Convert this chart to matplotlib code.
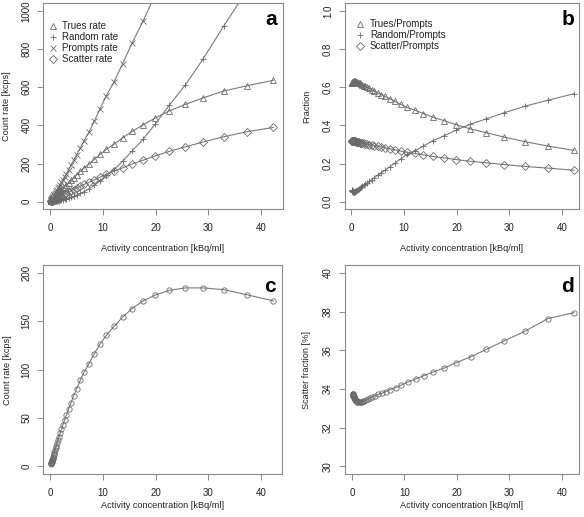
import numpy as np
import matplotlib
matplotlib.use('Agg')
import matplotlib.pyplot as plt

plt.rcParams['font.family'] = ['Liberation Sans', 'DejaVu Sans']

# activity concentration [kBq/ml] for each frame
activity = [0.13, 0.15, 0.17, 0.19, 0.22, 0.25, 0.28, 0.32, 0.36, 0.41,
            0.46, 0.52, 0.59, 0.67, 0.76, 0.87, 0.98, 1.11, 1.26, 1.43,
            1.62, 1.84, 2.09, 2.37, 2.68, 3.04, 3.45, 3.9, 4.4, 5.0,
            5.7, 6.4, 7.3, 8.3, 9.4, 10.6, 12.1, 13.7, 15.5, 17.6,
            19.9, 22.6, 25.6, 29.0, 32.9, 37.3, 42.3]

# noise equivalent count rate [kcps] (panel c)
necr = [2.55, 2.95, 3.3, 3.7, 4.3, 4.9, 5.5, 6.2, 7.0, 8.0,
        8.9, 10.1, 11.4, 12.9, 14.6, 16.7, 18.7, 21.1, 23.9, 26.9,
        30.3, 34.0, 38.3, 42.8, 47.5, 53.0, 59.0, 65.5, 72.8, 80.4,
        89.5, 97.5, 106.0, 116.5, 126.3, 135.4, 144.9, 154.4, 163.2, 171.2,
        177.2, 182.1, 184.6, 184.6, 182.8, 177.5, 171.2]

# scatter fraction [%] (panel d)
scatter_frac = [33.74, 33.73, 33.72, 33.71, 33.69, 33.67, 33.65, 33.62, 33.59, 33.56,
                33.52, 33.49, 33.45, 33.42, 33.39, 33.36, 33.34, 33.33, 33.32, 33.32,
                33.33, 33.34, 33.36, 33.38, 33.42, 33.46, 33.52, 33.58, 33.65, 33.72,
                33.78, 33.86, 33.97, 34.07, 34.20, 34.35, 34.51, 34.69, 34.88, 35.09,
                35.37, 35.66, 36.05, 36.49, 36.98, 37.64, 37.95]

# trues / prompts (panel b)
trues_frac = [0.622, 0.623, 0.624, 0.625, 0.626, 0.627, 0.628, 0.629, 0.630, 0.630,
              0.631, 0.631, 0.631, 0.631, 0.630, 0.629, 0.628, 0.627, 0.625, 0.623,
              0.620, 0.617, 0.613, 0.609, 0.605, 0.600, 0.594, 0.587, 0.580, 0.571,
              0.562, 0.552, 0.540, 0.526, 0.510, 0.494, 0.480, 0.462, 0.443, 0.425,
              0.404, 0.382, 0.362, 0.339, 0.315, 0.292, 0.269]

x = np.array(activity)
necr = np.array(necr)
sf = np.array(scatter_frac)
tf = np.array(trues_frac)

# rates in kcps
trues = necr / tf
prompts = trues / tf
scatter = trues * sf / (100 - sf)
randoms = prompts - trues - scatter

TXT = '#222222'
LINE = '#7a7a7a'
MARK = '#6a6a6a'
BOX = '#8a8a8a'
W, H = 584, 517


def frame(rect_px, xlim, ylim, yticks, ylabels=None):
    l, t, r, b = rect_px
    ax = fig.add_axes([l / W, 1 - b / H, (r - l) / W, (b - t) / H])
    ax.set_xlim(*xlim)
    ax.set_ylim(*ylim)
    ax.set_xticks([0, 10, 20, 30, 40])
    ax.set_yticks(yticks)
    if ylabels is not None:
        ax.set_yticklabels(ylabels)
    for s in ax.spines.values():
        s.set_color(BOX)
        s.set_linewidth(0.8)
    ax.tick_params(length=4, width=0.7, color=BOX, labelsize=7, labelcolor=TXT)
    ax.tick_params(axis='x', pad=6)
    ax.tick_params(axis='y', pad=4.5, labelrotation=90)
    for lab in ax.get_yticklabels():
        lab.set_va('center')
    return ax


def labels(ax, xlab, ylab, xy, yx, letter, lpos):
    ax.set_xlabel(xlab, fontsize=6.6, color=TXT, va='center')
    ax.set_ylabel(ylab, fontsize=6.6, color=TXT, va='center')
    ax.xaxis.set_label_coords(0.5, xy)
    ax.yaxis.set_label_coords(yx, 0.5)
    ax.text(lpos[0], lpos[1], letter, transform=ax.transAxes, fontsize=15,
            fontweight='bold', color='black', ha='center', va='center')


def legend(ax, entries, x0, y0, dy):
    # entries: (marker, size, text)
    for i, (m, ms, txt) in enumerate(entries):
        ax.plot([x0], [y0 - i * dy], marker=m, ms=ms, mfc='none', mec=MARK,
                mew=0.6, transform=ax.transAxes, clip_on=False)
        ax.text(x0 + 0.04, y0 - i * dy, txt, transform=ax.transAxes,
                fontsize=7, color=TXT, va='center', ha='left')


fig = plt.figure(figsize=(W / 100, H / 100), dpi=100)
kw = dict(color=LINE, lw=0.8, mfc='none', mec=MARK, mew=0.6)
xlab = 'Activity concentration [kBq/ml]'

# panel a: count rates
ax = frame((43.3, 3.4, 282.7, 209.3), (-1.35, 44.1), (-40, 1040),
           [0, 200, 400, 600, 800, 1000])
ax.plot(x, trues, marker='^', ms=4.6, **kw)
ax.plot(x, randoms, marker='+', ms=5, **kw)
ax.plot(x, prompts, marker='x', ms=3.8, **kw)
ax.plot(x, scatter, marker='D', ms=3.6, **kw)
labels(ax, xlab, 'Count rate [kcps]', -0.188, -0.152, 'a', (0.95, 0.92))
legend(ax, [('^', 4.6, 'Trues rate'), ('+', 5, 'Random rate'),
            ('x', 3.8, 'Prompts rate'), ('D', 3.6, 'Scatter rate')],
       0.04, 0.89, 0.054)

# panel b: fractions
ax = frame((344.7, 3.4, 579.3, 209.3), (-1.25, 43.3), (-0.04, 1.04),
           [0, 0.2, 0.4, 0.6, 0.8, 1.0], ['0.0', '0.2', '0.4', '0.6', '0.8', '1.0'])
ax.plot(x, trues / prompts, marker='^', ms=4.6, **kw)
ax.plot(x, randoms / prompts, marker='+', ms=5, **kw)
ax.plot(x, scatter / prompts, marker='D', ms=3.6, **kw)
labels(ax, xlab, 'Fraction', -0.188, -0.161, 'b', (0.95, 0.92))
legend(ax, [('^', 4.6, 'Trues/Prompts'), ('+', 5, 'Random/Prompts'),
            ('D', 3.6, 'Scatter/Prompts')], 0.067, 0.898, 0.053)

# panel c: NECR
ax = frame((43.3, 265.3, 281.7, 474), (-1.35, 43.9), (-8, 208),
           [0, 50, 100, 150, 200])
ax.plot(x, necr, marker='o', ms=3.8, **kw)
labels(ax, xlab, 'Count rate [kcps]', -0.153, -0.152, 'c', (0.95, 0.90))

# panel d: scatter fraction
ax = frame((344.7, 265.3, 579.3, 474), (-1.39, 43.3), (29.6, 40.4),
           [30, 32, 34, 36, 38, 40])
ax.plot(x, sf, marker='o', ms=3.8, **kw)
labels(ax, xlab, 'Scatter fraction [%]', -0.153, -0.161, 'd', (0.95, 0.90))

fig.savefig('out.png', dpi=100)
